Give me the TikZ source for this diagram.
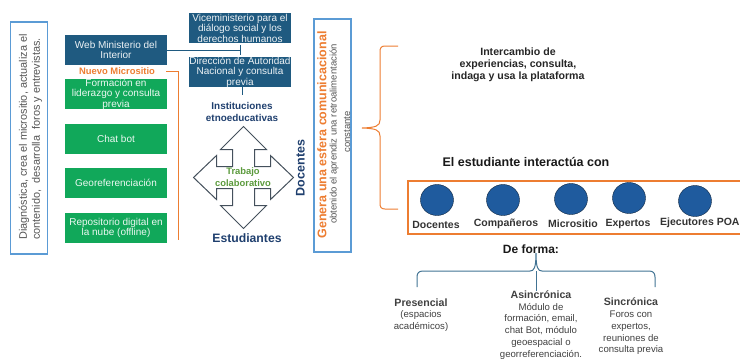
\documentclass[tikz,border=0pt]{standalone}
\usepackage{fontspec}
\setmainfont{Liberation Sans}
\usetikzlibrary{shapes.geometric}
\definecolor{navy}{HTML}{1F5A80}
\definecolor{gren}{HTML}{11A85A}
\definecolor{orng}{HTML}{ED7D31}
\definecolor{lblue}{HTML}{5B9BD5}
\definecolor{dtext}{HTML}{1F3F6E}
\definecolor{gtext}{HTML}{555555}
\definecolor{circ}{HTML}{1F5B9E}
\definecolor{arrowc}{HTML}{44505C}
\definecolor{trabc}{HTML}{5B9A3C}
\tikzset{
  fs/.style={font=\fontsize{#1}{10.5}\selectfont},
  navybox/.style={fill=navy,text=white!92!navy,minimum width=102pt,minimum height=30pt,align=center,inner sep=0pt,fs=10},
  greenbox/.style={fill=gren,text=white!92!gren,minimum width=102pt,minimum height=30pt,align=center,inner sep=0pt,fs=10},
  frame/.style={draw=lblue,line width=1.3pt,fill=none},
  sidetxt/.style={rotate=90,text=gtext,inner sep=0pt,fs=10.9},
  head/.style={font=\bfseries\fontsize{#1}{12}\selectfont,align=center,inner sep=0pt},
  lbl/.style={font=\bfseries\fontsize{10.5}{12}\selectfont,text=black!80,inner sep=0pt},
  bub/.style={ellipse,draw=black!60!circ,fill=circ,minimum width=33pt,minimum height=31pt,inner sep=0pt},
  body/.style={align=center,inner sep=0pt,text=black!75,font=\fontsize{9.6}{11.8}\selectfont},
}
\newcommand{\bh}[1]{{\bfseries\fontsize{10.6}{11.8}\selectfont #1}}
\begin{document}
\begin{tikzpicture}[x=1pt,y=-1pt]
\useasboundingbox (0,0) rectangle (740,360);
% left frame
\node[frame,minimum width=37pt,minimum height=232pt,inner sep=0pt] (leftframe) at (29,138) {};
\node[sidetxt] (lefta) at (24,137) {Diagnóstica, crea el micrositio, actualiza el};
\node[sidetxt] (leftb) at (37,139) {contenido,\ \ desarrolla\ \ foros y entrevistas.};
% left column
\node[navybox] (web) at (116,50) {Web Ministerio del\\Interior};
\node[inner sep=0pt,text=orng,font=\bfseries\fontsize{9.4}{10}\selectfont] (micro) at (117,71) {Nuevo Micrositio};
\node[greenbox] (g1) at (116,94) {Formación en\\liderazgo y consulta\\previa};
\node[greenbox] (g2) at (116,139) {Chat bot};
\node[greenbox] (g3) at (116,183) {Georeferenciación};
\node[greenbox] (g4) at (116,228) {Repositorio digital en\\la nube (offline)};
% centre column
\node[navybox] (vice) at (240,28) {Viceministerio para el\\diálogo social y los\\derechos humanos};
\node[navybox] (dir) at (240,72) {Dirección de Autoridad\\Nacional y consulta\\previa};
\coordinate (tee) at (240,50.5);
\coordinate (teeA) at (240,45);
\coordinate (teeB) at (240,55);
\draw[navy,line width=1pt] (web.east |- tee) -- (tee);
\draw[navy,line width=1pt] (teeA) -- (teeB);
\coordinate (ostart) at (166,71);
\coordinate (oj) at (178,71);
\coordinate (oe) at (178,240);
\draw[orng,line width=1pt] (ostart) -- (oj) -- (oe);
\coordinate (stem) at (242,95);
\draw[navy,line width=1pt] (dir.south -| stem) -- (stem);
\node[head=9.9,text=dtext] (inst) at (242,112) {Instituciones\\etnoeducativas};
% quad arrow
\draw[arrowc,line width=1pt,shift={(243.5,177.5)}]
  (0,-51) -- (23,-28) -- (11,-28) -- (11,-11) -- (27,-11) -- (27,-22) -- (50,0)
  -- (27,22) -- (27,11) -- (11,11) -- (11,28) -- (23,28) -- (0,51)
  -- (-23,28) -- (-11,28) -- (-11,11) -- (-27,11) -- (-27,22) -- (-50,0)
  -- (-27,-22) -- (-27,-11) -- (-11,-11) -- (-11,-28) -- (-23,-28) -- cycle;
\node[head=9.4,text=trabc] (trab) at (243,177.5) {Trabajo\\colaborativo};
\node[head=12.2,text=dtext] (est) at (247,238) {Estudiantes};
\node[head=12.5,text=dtext,rotate=90] (doc) at (300.5,168) {Docentes};
% second frame
\node[frame,minimum width=37pt,minimum height=233pt,inner sep=0pt] (rightframe) at (332.5,135.5) {};
\node[head=12.5,text=orng,rotate=90] (gen) at (322,135) {Genera una esfera comunicacional};
\node[sidetxt,fs=9.5] (obt) at (334,134) {obtenido el aprendiz una retroalimentación};
\node[sidetxt,fs=9.5] (cons) at (347,132) {constante};
% orange brace
\coordinate (bt) at (398,46);
\coordinate (bb) at (398,209);
\coordinate (btip) at (362,128);
\draw[orng,line width=1pt] (bt) -- (385,46) .. controls (381,46) and (380,48) .. (380,52)
  -- (380,120) .. controls (380,126) and (376,127.5) .. (btip)
  .. controls (376,128.5) and (380,130) .. (380,136)
  -- (380,203) .. controls (380,207) and (381,209) .. (385,209) -- (bb);
\node[head=10.6,text=black!85] (inter) at (518,64.5) {Intercambio de\\experiencias, consulta,\\indaga y usa la plataforma};
\node[head=12.5,text=black!90] (interact) at (526,162) {El estudiante interactúa con};
% participants band
\draw[orng,line width=1.3pt] (741,181) -- (408,181) -- (408,234) -- (741,234);
\node[bub] (c1) at (437,200) {};
\node[bub] (c2) at (503,200) {};
\node[bub] (c3) at (571,199) {};
\node[bub] (c4) at (629,198) {};
\node[bub] (c5) at (695,201) {};
\node[lbl] (l1) at (436,225) {Docentes};
\node[lbl] (l2) at (506,224) {Compañeros};
\node[lbl] (l3) at (573,224) {Micrositio};
\node[lbl] (l4) at (628,224) {Expertos};
\node[lbl,anchor=west] (l5) at (660,223) {Ejecutores POA};
\node[head=12,text=black!90] (forma) at (531,249) {De forma:};
% blue brace
\draw[navy!85,line width=1pt] (417,287) -- (417,277) .. controls (417,273) and (419,271) .. (423,271)
  -- (530,271) .. controls (534,271) and (536,268) .. (536,253)
  .. controls (536,268) and (538,271) .. (542,271)
  -- (649,271) .. controls (653,271) and (655,273) .. (655,277) -- (655,287);
\draw[navy!85,line width=1pt] (536,271) -- (536,291);
\node[body] (p) at (421,315) {\bh{Presencial}\\(espacios\\académicos)};
\node[body] (a) at (541,325) {\bh{Asincrónica}\\Módulo de\\formación, email,\\chat Bot, módulo\\geoespacial o\\georreferenciación.};
\node[body] (s) at (631,326.5) {\bh{Sincrónica}\\Foros con\\expertos,\\reuniones de\\consulta previa};
\end{tikzpicture}
\end{document}
